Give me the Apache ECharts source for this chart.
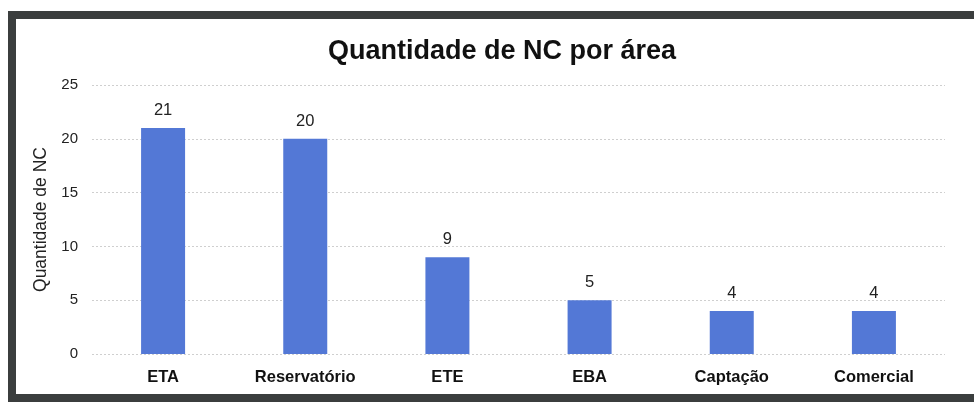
<!DOCTYPE html>
<html>
<head>
<meta charset="utf-8">
<script src="https://cdn.jsdelivr.net/npm/echarts@6/dist/echarts.min.js"></script>
<style>
  html, body { margin: 0; padding: 0; background: #fff; }
  #chart { width: 974px; height: 406px; }
</style>
</head>
<body>
<div id="chart"></div>
<script>
const categories = ["ETA", "Reservatório", "ETE", "EBA", "Captação", "Comercial"];
const values = [21, 20, 9, 5, 4, 4];
const yTicks = [0, 5, 10, 15, 20, 25];

const chart = echarts.init(document.getElementById("chart"), null, { renderer: "canvas" });

chart.setOption({
  backgroundColor: "#fff",
  animation: false,
  graphic: [
    {
      type: "rect",
      z: -1,
      shape: { x: 12, y: 15, width: 1000, height: 383 },
      style: { fill: "#fff", stroke: "#3b3e3e", lineWidth: 8 },
    },
  ],
  title: {
    text: "Quantidade de NC por área",
    left: 497,
    top: 33,
    textAlign: "center",
    textStyle: {
      fontFamily: "Liberation Sans, Arial, sans-serif",
      fontSize: 27,
      fontWeight: "bold",
      color: "#111",
    },
  },
  grid: { left: 92, right: 29, top: 85, bottom: 52 },
  xAxis: {
    type: "category",
    data: categories,
    axisLine: { show: false },
    axisTick: { show: false },
    axisLabel: {
      margin: 15,
      fontFamily: "Liberation Sans, Arial, sans-serif",
      fontSize: 16.5,
      fontWeight: "bold",
      color: "#111",
    },
  },
  yAxis: {
    type: "value",
    min: yTicks[0],
    max: yTicks[yTicks.length - 1],
    interval: 5,
    name: "Quantidade de NC",
    nameLocation: "middle",
    nameGap: 41,
    nameTextStyle: {
      fontFamily: "Liberation Sans, Arial, sans-serif",
      fontSize: 17.5,
      color: "#222",
    },
    axisLine: { show: false },
    axisTick: { show: false },
    axisLabel: {
      margin: 14,
      fontFamily: "Liberation Sans, Arial, sans-serif",
      fontSize: 15,
      color: "#222",
    },
    splitLine: {
      lineStyle: { color: "#cfcfcf", type: [2, 2], width: 1 },
    },
  },
  series: [
    {
      type: "bar",
      data: values,
      barWidth: 44,
      itemStyle: { color: "#5378d6" },
      label: {
        show: true,
        position: "top",
        distance: 9,
        fontFamily: "Liberation Sans, Arial, sans-serif",
        fontSize: 16.5,
        color: "#222",
      },
    },
  ],
});
</script>
</body>
</html>
